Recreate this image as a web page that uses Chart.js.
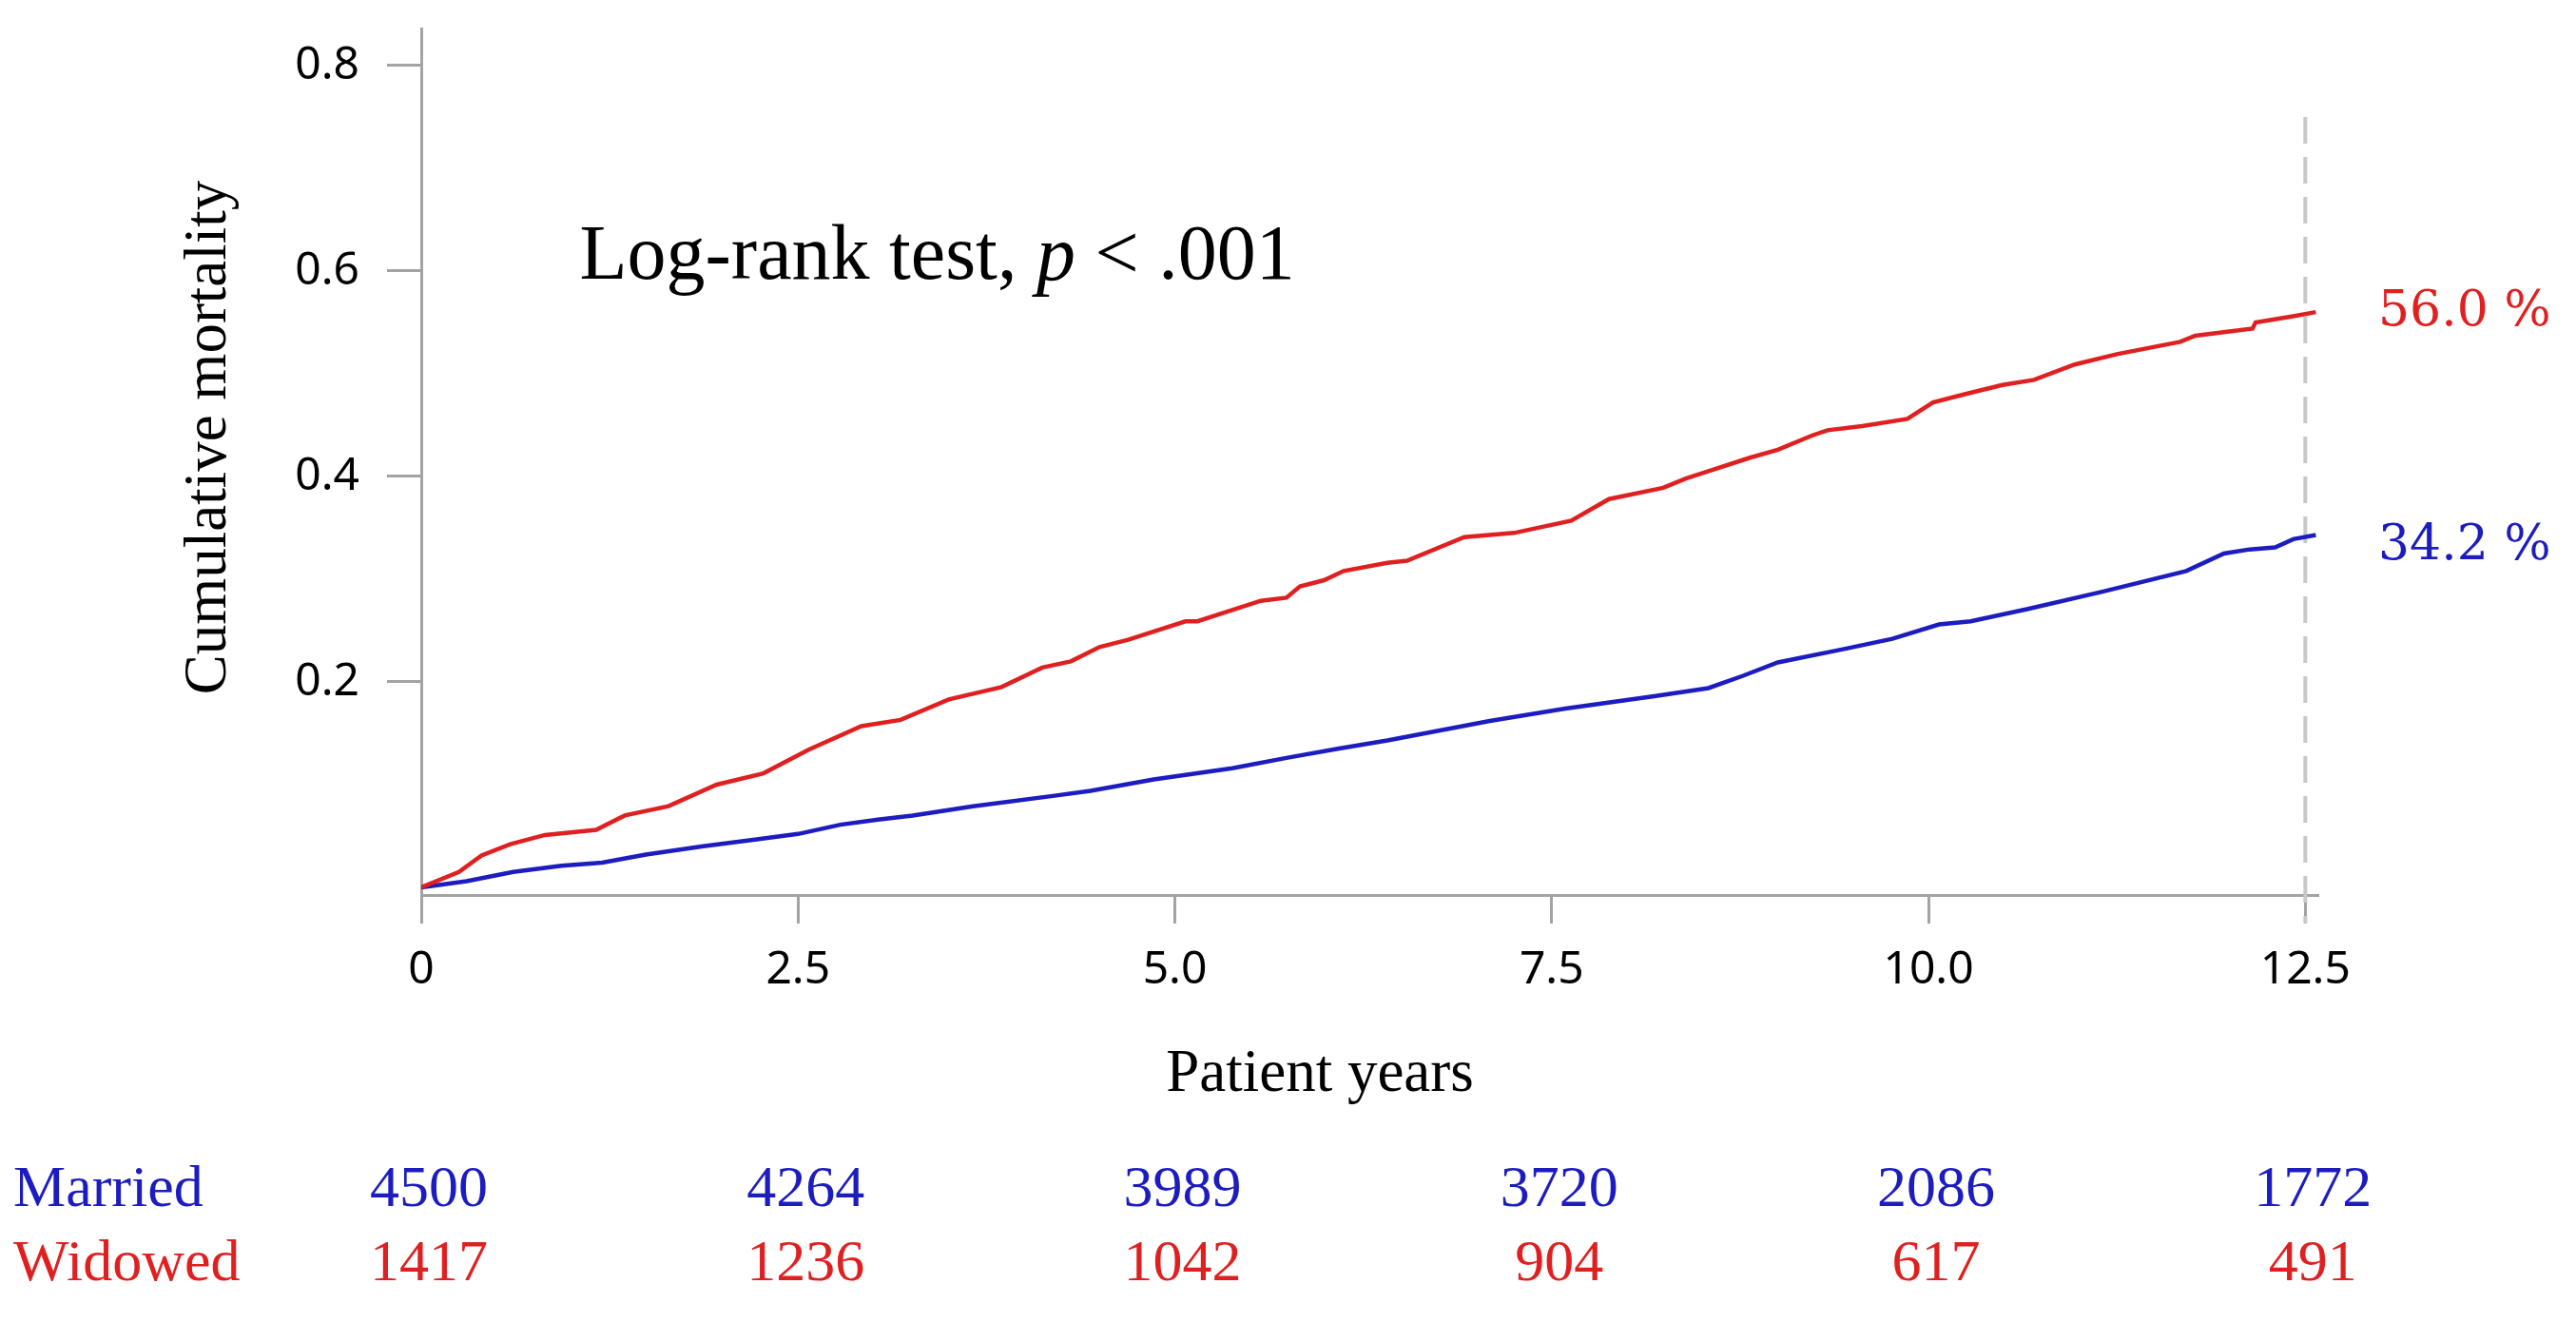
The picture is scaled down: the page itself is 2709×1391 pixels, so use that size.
<!DOCTYPE html>
<html>
<head>
<meta charset="utf-8">
<script src="https://cdn.jsdelivr.net/npm/chart.js@4.4.1/dist/chart.umd.min.js"></script>
<style>
  html, body { margin: 0; padding: 0; background: #fff; }
  #wrap { width: 2709px; height: 1391px; position: relative; }
</style>
</head>
<body>
<div id="wrap"><canvas id="c-km"></canvas></div>
<script>
// cumulative mortality (years, proportion)
var widowedT = [0,0.25,0.40,0.59,0.82,1.16,1.35,1.64,1.96,2.27,2.57,2.92,3.18,3.50,3.85,4.12,4.31,4.50,4.69,5.07,5.15,5.57,5.74,5.83,5.99,6.12,6.41,6.54,6.92,7.25,7.63,7.88,8.24,8.39,8.56,8.81,9.00,9.23,9.33,9.56,9.86,10.03,10.24,10.49,10.70,10.97,11.25,11.67,11.77,12.15,12.17,12.42,12.57];
var widowedY = [0,0.015,0.031,0.042,0.051,0.056,0.070,0.079,0.100,0.111,0.134,0.157,0.163,0.183,0.195,0.214,0.220,0.234,0.241,0.259,0.259,0.279,0.282,0.293,0.299,0.308,0.316,0.318,0.341,0.345,0.357,0.378,0.389,0.398,0.406,0.418,0.426,0.440,0.445,0.449,0.456,0.472,0.480,0.489,0.494,0.509,0.519,0.531,0.537,0.544,0.550,0.556,0.560];
var marriedT = [0,0.30,0.61,0.93,1.20,1.49,1.87,2.19,2.50,2.78,3.03,3.26,3.66,4.19,4.44,4.86,5.38,5.74,6.08,6.41,7.09,7.59,8.18,8.54,8.77,9.00,9.44,9.76,10.07,10.28,10.66,11.16,11.71,11.96,12.13,12.30,12.42,12.57];
var marriedY = [0,0.006,0.015,0.021,0.024,0.032,0.040,0.046,0.052,0.061,0.066,0.070,0.079,0.089,0.094,0.105,0.116,0.126,0.135,0.143,0.162,0.174,0.186,0.194,0.206,0.219,0.232,0.242,0.256,0.259,0.271,0.288,0.308,0.325,0.329,0.331,0.339,0.343];

var groups = ['Married', 'Widowed'];
var endLabels = ['34.2 %', '56.0 %'];
var riskTimes = [0, 2.5, 5, 7.5, 10, 12.5];
var marriedRisk = [4500, 4264, 3989, 3720, 2086, 1772];
var widowedRisk = [1417, 1236, 1042, 904, 617, 491];
var xTicks = [0, 2.5, 5, 7.5, 10, 12.5];
var yTicks = [0.2, 0.4, 0.6, 0.8];
var refLineX = [12.5, 12.5];
var refLineY = [0.75, -0.035];

var blue = '#1c1cc0';
var red = '#e02020';
var axisGray = '#a3a3a3';

function pts(xs, ys) {
  return xs.map(function(x, i) { return {x: x, y: ys[i]}; });
}

var annotate = {
  id: 'annotate',
  afterDraw: function(chart) {
    var ctx = chart.ctx, xs = chart.scales.x, ys = chart.scales.y;
    ctx.save();
    ctx.textBaseline = 'middle';
    ctx.fillStyle = '#000';

    // axis titles
    ctx.font = '63px "Liberation Serif"';
    ctx.textAlign = 'center';
    ctx.fillText('Patient years', 1388, 1130);
    ctx.save();
    ctx.translate(220, 460);
    ctx.rotate(-Math.PI / 2);
    ctx.fillText('Cumulative mortality', 0, 0);
    ctx.restore();

    // log-rank text
    var lx = xs.getPixelForValue(1.05), ly = ys.getPixelForValue(0.612);
    ctx.textAlign = 'left';
    var parts = [['Log-rank test, ', ''], ['p', 'italic '], [' < .001', '']];
    parts.forEach(function(p) {
      ctx.font = p[1] + '82px "Liberation Serif"';
      ctx.fillText(p[0], lx, ly);
      lx += ctx.measureText(p[0]).width;
    });

    // end-of-curve percentages
    ctx.font = '52px "DejaVu Serif"';
    ctx.fillStyle = blue;
    ctx.fillText(endLabels[0], xs.right + 64, ys.getPixelForValue(marriedY[marriedY.length - 1]) + 12);
    ctx.fillStyle = red;
    ctx.fillText(endLabels[1], xs.right + 64, ys.getPixelForValue(widowedY[widowedY.length - 1]));

    // numbers at risk
    var rows = [[groups[0], marriedRisk, blue, 1252], [groups[1], widowedRisk, red, 1330]];
    ctx.font = '62px "Liberation Serif"';
    rows.forEach(function(r) {
      ctx.fillStyle = r[2];
      ctx.textAlign = 'left';
      ctx.fillText(r[0], 14, r[3]);
      ctx.textAlign = 'center';
      r[1].forEach(function(n, i) {
        ctx.fillText(String(n), xs.getPixelForValue(riskTimes[i]) + 8, r[3]);
      });
    });
    ctx.restore();
  }
};

new Chart(document.getElementById('c-km'), {
  type: 'line',
  data: {
    datasets: [
      {label: groups[1], data: pts(widowedT, widowedY), borderColor: red, borderWidth: 4.5, pointRadius: 0, tension: 0, fill: false},
      {label: groups[0], data: pts(marriedT, marriedY), borderColor: blue, borderWidth: 4.5, pointRadius: 0, tension: 0, fill: false},
      {label: 'ref', data: pts(refLineX, refLineY), borderColor: '#c8c8c8', borderWidth: 4, borderDash: [28, 14], pointRadius: 0, clip: false}
    ]
  },
  options: {
    responsive: true, maintainAspectRatio: false, animation: false, devicePixelRatio: 1,
    layout: {padding: {top: 30, right: 272, left: 0, bottom: 0}},
    plugins: {legend: {display: false}, tooltip: {enabled: false}},
    scales: {
      x: {
        type: 'linear', min: 0, max: 12.58,
        afterBuildTicks: function(s) { s.ticks = xTicks.map(function(v) { return {value: v}; }); },
        afterFit: function(s) { s.height = 450; s.paddingLeft = 0; s.paddingRight = 0; },
        ticks: {color: '#000', padding: 21, font: {family: 'Noto Sans', size: 48},
          callback: function(v) { return v === 0 ? '0' : v.toFixed(1); }},
        grid: {drawOnChartArea: false, tickLength: 30, color: axisGray, lineWidth: 3},
        border: {color: axisGray, width: 3}
      },
      y: {
        min: -0.0074, max: 0.836,
        afterBuildTicks: function(s) { s.ticks = yTicks.map(function(v) { return {value: v}; }); },
        afterFit: function(s) { s.width = 443; s.paddingTop = 0; s.paddingBottom = 0; },
        ticks: {color: '#000', padding: 29, font: {family: 'Noto Sans', size: 48},
          callback: function(v) { return v.toFixed(1); }},
        grid: {drawOnChartArea: false, tickLength: 36, color: axisGray, lineWidth: 3},
        border: {color: axisGray, width: 3}
      }
    }
  },
  plugins: [annotate]
});
</script>
</body>
</html>
